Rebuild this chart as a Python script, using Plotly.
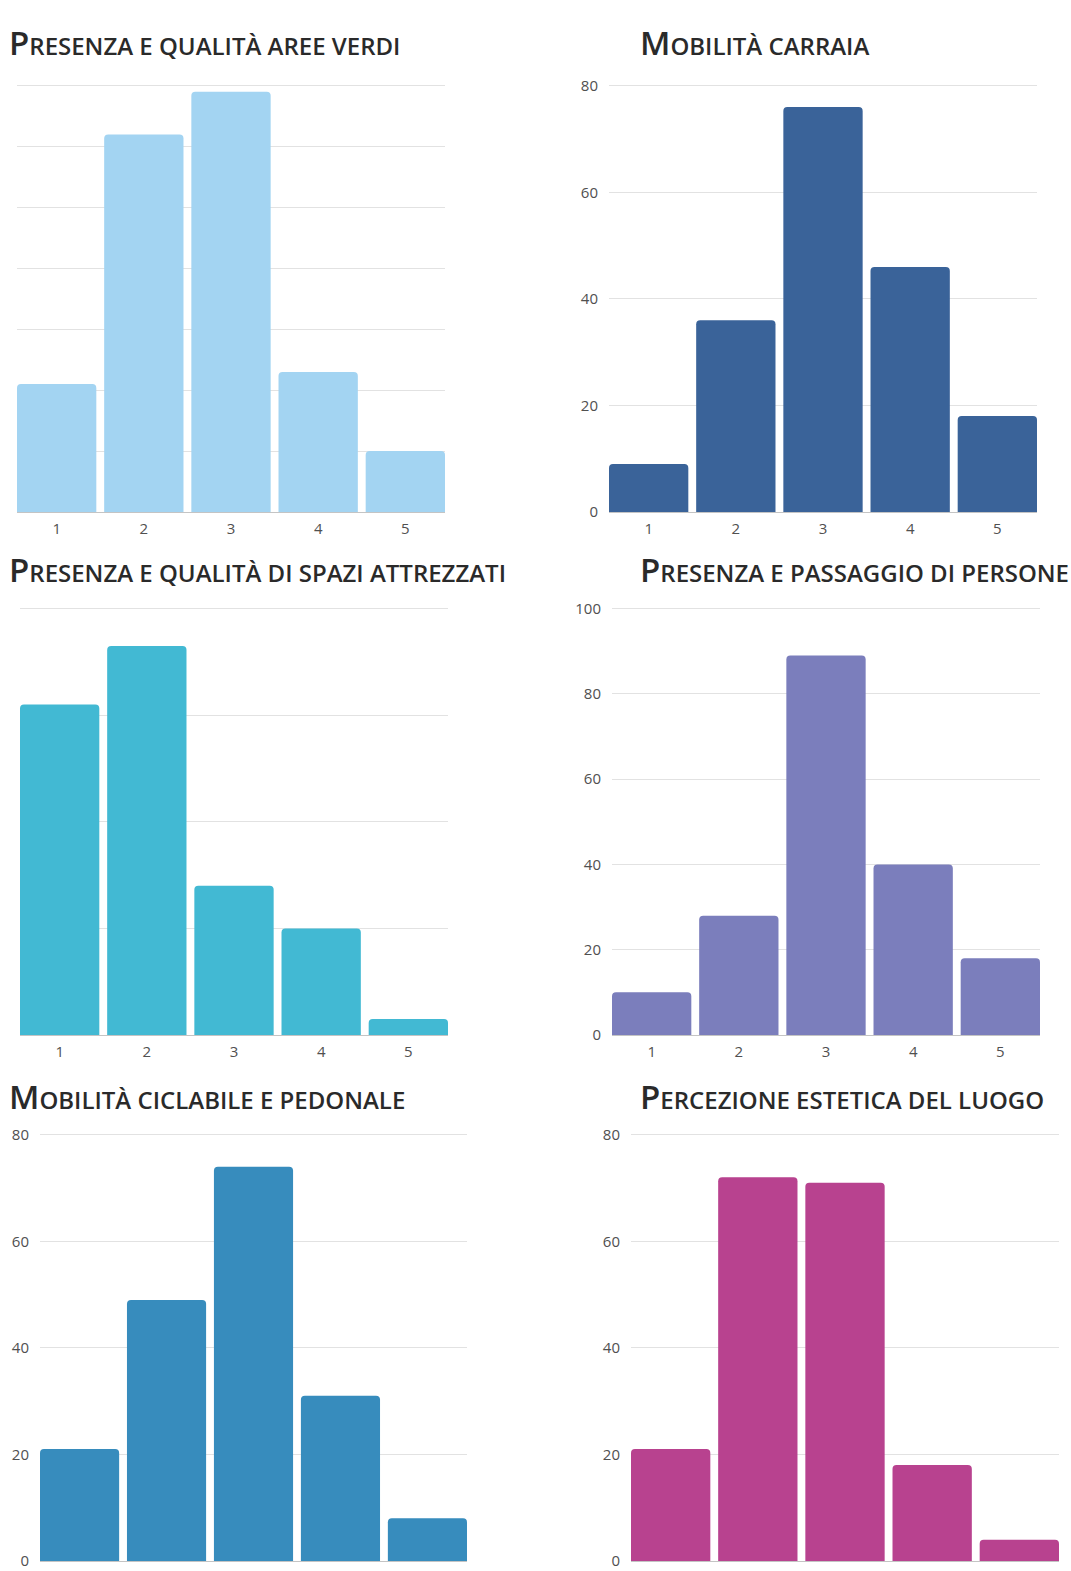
import plotly.graph_objects as go

W, H = 1071, 1571

categories = [1, 2, 3, 4, 5]

titles = [
    "Presenza e qualità aree verdi",
    "Mobilità carraia",
    "Presenza e qualità di spazi attrezzati",
    "Presenza e passaggio di persone",
    "Mobilità ciclabile e pedonale",
    "Percezione estetica del luogo",
]

aree_verdi = [21, 62, 69, 23, 10]
mobilita_carraia = [9, 36, 76, 46, 18]
spazi_attrezzati = [62, 73, 28, 20, 3]
passaggio_persone = [10, 28, 89, 40, 18]
mobilita_ciclabile = [21, 49, 74, 31, 8]
percezione_estetica = [21, 72, 71, 18, 4]

series = [aree_verdi, mobilita_carraia, spazi_attrezzati,
          passaggio_persone, mobilita_ciclabile, percezione_estetica]

colors = ["#A3D4F2", "#3A6399", "#42B9D3", "#7B7EBC", "#378CBD", "#B8428F"]

y_max = [70, 80, 80, 100, 80, 80]
y_step = [10, 20, 20, 20, 20, 20]

# plot-area boxes in pixels: (x0, x1, y_top, y_bottom)
boxes = [
    (17, 445, 84, 512),
    (609, 1037, 84, 512),
    (20, 448, 607, 1035),
    (612, 1040, 607, 1035),
    (40, 467, 1133, 1561),
    (631, 1059, 1133, 1561),
]
# which panels show y / x tick labels (the others are cropped in the source)
show_y = [False, True, False, True, True, True]
show_x = [True, True, True, True, False, False]
# title positions in pixels: (x_left, baseline)
title_pos = [(7, 59), (638, 59), (7, 586), (638, 586), (7, 1113), (638, 1113)]


def small_caps(text, big=33, small=24):
    t = text.upper()
    return (f"<span style='font-size:{big}px'>{t[0]}</span>"
            f"<span style='font-size:{small}px'>{t[1:]}</span>")


fig = go.Figure()
annotations = []
for i, vals in enumerate(series):
    n = i + 1
    xa = "x" if n == 1 else f"x{n}"
    ya = "y" if n == 1 else f"y{n}"
    fig.add_trace(go.Bar(
        x=categories, y=vals, xaxis=xa, yaxis=ya,
        marker=dict(color=colors[i], line=dict(width=0), cornerradius=4),
        showlegend=False,
    ))
    x0, x1, yt, yb = boxes[i]
    axis_x = dict(
        domain=[x0 / W, x1 / W], anchor=ya,
        range=[0.545, 5.455], tickvals=categories,
        ticktext=[str(c) for c in categories],
        showticklabels=show_x[i],
        showgrid=False, zeroline=False, showline=False, ticks="",
        ticklabelstandoff=6,
        tickfont=dict(family="Open Sans", size=15, color="#505050"),
        automargin=False, fixedrange=True,
    )
    axis_y = dict(
        domain=[1 - yb / H, 1 - yt / H], anchor=xa,
        range=[0, y_max[i] * 1.004], dtick=y_step[i], tick0=0,
        showticklabels=show_y[i],
        showgrid=True, gridcolor="#E2E2E2", gridwidth=1,
        zeroline=True, zerolinecolor="#C4C4C4", zerolinewidth=1,
        showline=False, ticks="", ticklabelstandoff=10,
        tickfont=dict(family="Open Sans", size=15, color="#505050"),
        automargin=False, fixedrange=True,
    )
    key = "" if n == 1 else str(n)
    fig.layout["xaxis" + key] = axis_x
    fig.layout["yaxis" + key] = axis_y

    tx, tb = title_pos[i]
    annotations.append(dict(
        text=small_caps(titles[i]), x=tx / W, y=1 - (tb + 8) / H,
        xref="paper", yref="paper", xanchor="left", yanchor="bottom",
        showarrow=False,
        font=dict(family="Open Sans", size=24, color="#2A2A2A", weight=600),
    ))

fig.update_layout(
    width=W, height=H,
    margin=dict(l=0, r=0, t=0, b=0, autoexpand=False),
    paper_bgcolor="white", plot_bgcolor="white",
    bargap=0.09,
    annotations=annotations,
)

fig.write_html("out.html", config={"displayModeBar": False},
               post_script="document.body.style.margin='0px';")
